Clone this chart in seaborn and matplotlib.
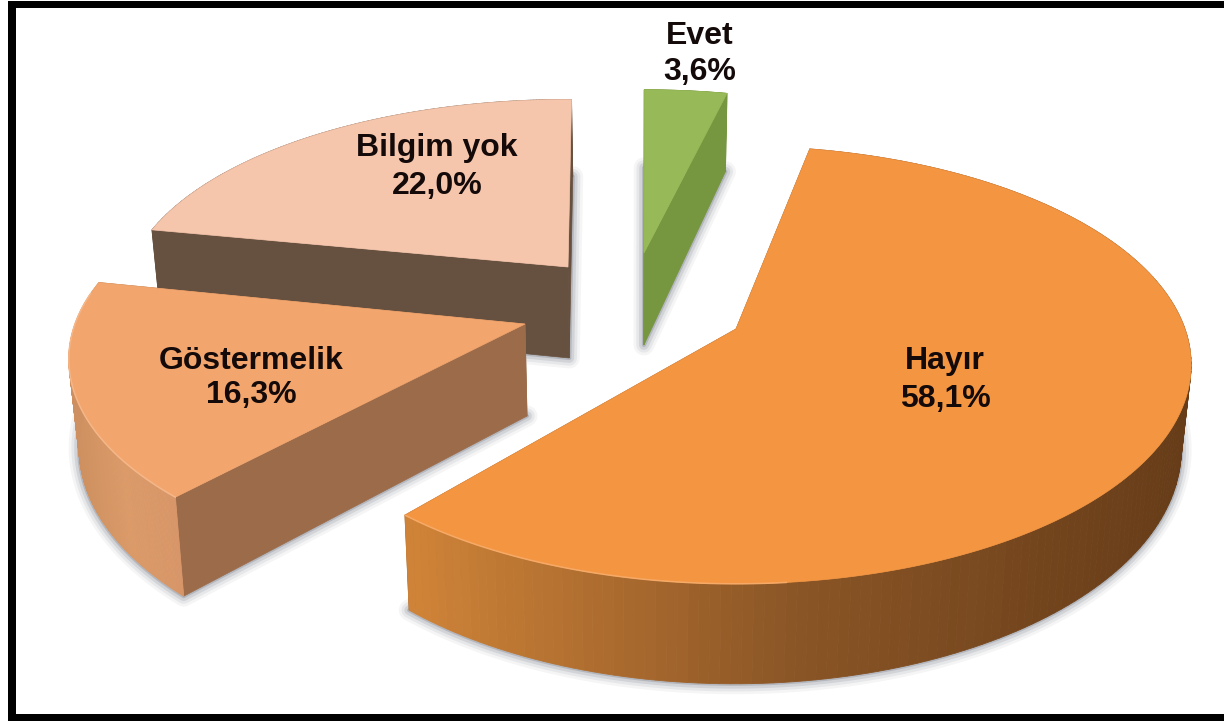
import numpy as np
import matplotlib
matplotlib.use("Agg")
import matplotlib.pyplot as plt
import seaborn as sns
from matplotlib.patches import Rectangle

# ── Data ─────────────────────────────────────────────────────────────────────

labels = ["Hayır", "Göstermelik", "Bilgim yok", "Evet"]
values = [58.1, 16.3, 22.0, 3.6]

# ── Look of the slices (same order as labels) ────────────────────────────────

top_colors = ["#F49541", "#F2A56D", "#F6C6AC", "#98B957"]
cut_colors = ["#8A5526", "#9C6B4A", "#66503F", "#76963F"]
wall_stops = [["#D08438", "#8A5526", "#663C18"],
              ["#CE9060", "#DB9A68", "#D89668"],
              ["#66503F", "#66503F"],
              ["#76963F", "#76963F"]]
apex_x = [736, 525, 568, 644]
apex_y = [329, 324, 267, 253]
radius_x = [449, 450, 438, 428]
radius_y = [213, 209, 195, 190]
depth = [82, 86, 91, 92]
apex_depth = [82, 92, 91, 92]
angle_nudge = [0, 3, 2.5, 2]
label_xy = [(945, 380), (251, 378), (437, 167), (700, 54)]
line_gap = [1.33, 1.15, 1.36, 1.29]
draw_order = [2, 3, 1, 0]

START_ANGLE = 11      # clockwise from 12 o'clock
TILT = 0.164          # perspective, far side of the pie is smaller
DEPTH_TILT = 0.18
SLANT = 0.018         # walls lean towards the middle of the picture
FONT = ["Liberation Sans", "DejaVu Sans"]


def project(i, angle_deg):
    """Screen position of a point on the rim."""
    a = np.radians(angle_deg)
    u, v = np.sin(a), np.cos(a)
    w = 1 + TILT * v
    return apex_x[i] + radius_x[i] * u / w, apex_y[i] - radius_y[i] * v / w


def draw_slice(ax, i, a0, a1):
    angles = np.linspace(a0, a1, 180)
    rim_x, rim_y = project(i, angles)
    top_x = np.r_[apex_x[i], rim_x]
    top_y = np.r_[apex_y[i], rim_y]

    # lower edge of the walls
    d = depth[i] / (1 + DEPTH_TILT * np.cos(np.radians(angles)))
    low_x = rim_x + (640 - rim_x) * SLANT
    low_y = rim_y + d
    apex_low_x = apex_x[i] + (640 - apex_x[i]) * SLANT
    apex_low_y = apex_y[i] + apex_depth[i]

    # soft shadow around the bottom face
    for lw, alpha in [(15, 0.05), (11, 0.08), (7, 0.12), (3, 0.2)]:
        ax.fill(np.r_[apex_low_x, low_x], np.r_[apex_low_y, low_y],
                facecolor="none", edgecolor="#404858", lw=lw, alpha=alpha,
                joinstyle="round")

    # flat cut faces
    for k in (0, -1):
        ax.fill([rim_x[k], apex_x[i], apex_low_x, low_x[k]],
                [rim_y[k], apex_y[i], apex_low_y, low_y[k]],
                color=cut_colors[i], lw=0.5)

    # outer wall, coloured by screen position
    n_pal = 120
    pal = sns.blend_palette(wall_stops[i], n_colors=n_pal)
    lo, hi = rim_x.min(), rim_x.max()
    for j in range(len(angles) - 1):
        xs = [rim_x[j], rim_x[j + 1], low_x[j + 1], low_x[j]]
        ys = [rim_y[j], rim_y[j + 1], low_y[j + 1], low_y[j]]
        pos = int((rim_x[j] - lo) / (hi - lo) * (n_pal - 1))
        ax.fill(xs, ys, color=pal[pos], lw=0.6)

    # top face with light front rim
    ax.fill(top_x, top_y, color=top_colors[i], lw=0.5)
    a = np.radians(angles)
    front = (np.cos(a) < 0.15) & (np.sin(a) < 0.1)
    if front.any():
        light = sns.blend_palette([top_colors[i], "#FFFFFF"], 6)[1]
        ax.plot(rim_x[front], rim_y[front], color=light, lw=1.1)


# ── Main ──────────────────────────────────────────────────────────────────────

sns.set_theme(style="white")
plt.rcParams["font.family"] = FONT

fig = plt.figure(figsize=(12.24, 7.21), dpi=100)
ax = fig.add_axes([0, 0, 1, 1])
ax.set_xlim(0, 1224)
ax.set_ylim(721, 0)
ax.axis("off")

edges = START_ANGLE + 360 * np.r_[0, np.cumsum(values)] / np.sum(values)
for i in draw_order:
    draw_slice(ax, i, edges[i] + angle_nudge[i], edges[i + 1] + angle_nudge[i])

for i, (x, y) in enumerate(label_xy):
    text = f"{labels[i]}\n{values[i]:.1f}%".replace(".", ",")
    ax.text(x, y, text, ha="center", va="center", fontsize=23,
            fontweight="bold", color="#140A0A", linespacing=line_gap[i])

# black frame, open on the right
for x, y, w, h in [(8, 1, 1216, 7), (8, 1, 8, 720), (8, 714, 1216, 7)]:
    ax.add_patch(Rectangle((x, y), w, h, color="black", lw=0, zorder=10))

fig.savefig("out.png", dpi=100)
